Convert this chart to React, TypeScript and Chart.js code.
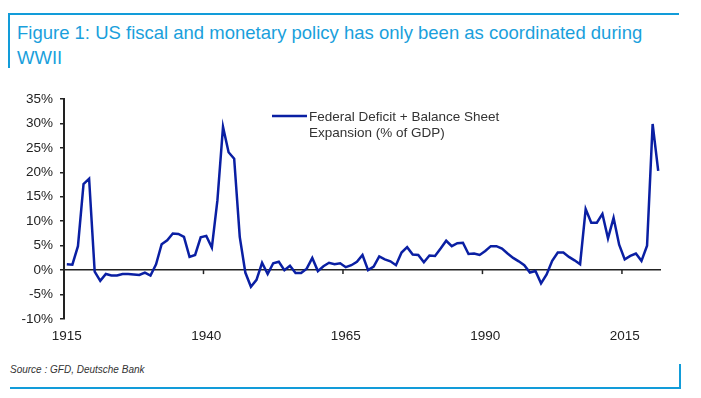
import React, { useEffect, useRef } from "react";
import { Chart, registerables } from "chart.js";

Chart.register(...registerables);

// ---------- data ----------
const FIRST_YEAR = 1915;
const LABEL_EVERY = 25;
// Federal Deficit + Balance Sheet Expansion (% of GDP), 1915..2021
const VALUES: number[] = [
  1.2, 1.1, 4.9, 17.6, 18.7,
  -0.3, -2.2, -0.8, -1.1, -1.1, -0.8, -0.8, -0.9, -1.0, -0.5,
  -1.1, 1.2, 5.3, 6.1, 7.5, 7.4, 6.8, 2.7, 3.1, 6.7,
  7.0, 4.6, 14.3, 29.3, 24.1, 22.8, 6.8, -0.5, -3.4, -2.0,
  1.5, -0.8, 1.4, 1.7, 0.0, 0.9, -0.6, -0.6, 0.3, 2.5,
  -0.2, 0.8, 1.5, 1.2, 1.4, 0.6, 1.0, 1.7, 3.1, 0.0,
  0.7, 2.8, 2.2, 1.8, 1.0, 3.6, 4.7, 3.2, 3.1, 1.6,
  3.0, 2.9, 4.4, 6.0, 4.9, 5.5, 5.6, 3.3, 3.4, 3.1,
  3.9, 4.9, 4.9, 4.4, 3.4, 2.5, 1.8, 1.0, -0.5, -0.2,
  -2.7, -0.9, 1.9, 3.6, 3.6, 2.7, 2.0, 1.2, 12.5, 9.7,
  9.7, 11.5, 6.5, 10.7, 5.2, 2.2, 2.9, 3.4, 1.9, 5.0,
  29.9, 20.3,
];
const YEARS: string[] = VALUES.map((_, i) => String(FIRST_YEAR + i));
const Y_MIN = -10;
const Y_MAX = 35;
const Y_STEP = 5;
const SERIES_LABEL = ["Federal Deficit + Balance Sheet", "Expansion (% of GDP)"];
const TITLE_LINES = [
  "Figure 1: US fiscal and monetary policy has only been as coordinated during",
  "WWII",
];
const SOURCE = "Source : GFD, Deutsche Bank";

const isLabelled = (i: number) => (Number(YEARS[i]) - FIRST_YEAR) % LABEL_EVERY === 0;

// ---------- style ----------
const FRAME = "#129cd9";
const LINE = "#0a1fa3";
const FONT = "'Liberation Sans', Arial, sans-serif";

const zeroAxisTicks = {
  id: "zeroAxisTicks",
  afterDatasetsDraw(chart: any) {
    const x = chart.scales.x;
    const y = chart.scales.y;
    const y0 = y.getPixelForValue(0);
    const ctx = chart.ctx;
    ctx.save();
    ctx.strokeStyle = "#222";
    ctx.lineWidth = 1.5;
    YEARS.forEach((_yr, i) => {
      if (i > 0 && isLabelled(i)) {
        const px = x.getPixelForValue(i - 0.5);
        ctx.beginPath();
        ctx.moveTo(px, y0);
        ctx.lineTo(px, y0 + 4);
        ctx.stroke();
      }
    });
    ctx.restore();
  },
};

const customLegend = {
  id: "customLegend",
  afterDraw(chart: any) {
    const { ctx, chartArea } = chart;
    const ds = chart.data.datasets[0];
    const lx = chartArea.left + 208;
    const ly = chartArea.top + 17;
    ctx.save();
    ctx.strokeStyle = ds.borderColor;
    ctx.lineWidth = 2.5;
    ctx.beginPath();
    ctx.moveTo(lx, ly);
    ctx.lineTo(lx + 35, ly);
    ctx.stroke();
    ctx.fillStyle = "#333";
    ctx.font = `13.5px ${FONT}`;
    ctx.textBaseline = "alphabetic";
    ctx.textAlign = "left";
    SERIES_LABEL.forEach((t, i) => {
      ctx.fillText(t, lx + 37, ly + 5 + i * 16);
    });
    ctx.restore();
  },
};

export default function App() {
  const ref = useRef<HTMLCanvasElement | null>(null);

  useEffect(() => {
    if (!ref.current) return;
    const chart = new Chart(ref.current, {
      type: "line",
      data: {
        labels: YEARS,
        datasets: [
          {
            label: SERIES_LABEL.join(" "),
            data: VALUES,
            borderColor: LINE,
            backgroundColor: LINE,
            borderWidth: 2.5,
            pointRadius: 0,
            tension: 0,
          },
        ],
      },
      options: {
        animation: false,
        responsive: false,
        devicePixelRatio: 1,
        layout: { padding: { left: 0, right: 40, top: 19, bottom: 0 } },
        plugins: {
          legend: { display: false },
          tooltip: { enabled: false },
        },
        font: { family: FONT },
        scales: {
          x: {
            type: "category",
            offset: true,
            grid: { display: false, drawTicks: false },
            border: { display: false },
            ticks: {
              autoSkip: false,
              maxRotation: 0,
              minRotation: 0,
              padding: 9,
              color: "#222",
              font: { family: FONT, size: 13.5 },
              callback: (_v: any, i: number) => (isLabelled(i) ? YEARS[i] : ""),
            },
            afterFit: (s: any) => {
              s.height = 41;
            },
          },
          y: {
            min: Y_MIN,
            max: Y_MAX,
            grid: {
              drawOnChartArea: true,
              drawTicks: true,
              tickLength: 4,
              color: (c: any) => (c.tick && c.tick.value === 0 ? "#222" : "rgba(0,0,0,0)"),
              tickColor: "#222",
              lineWidth: 1.5,
            },
            border: { display: true, color: "#222", width: 2 },
            ticks: {
              stepSize: Y_STEP,
              padding: 7,
              color: "#222",
              font: { family: FONT, size: 13.5 },
              callback: (v: any) => `${v}%`,
            },
            afterFit: (s: any) => {
              s.width = 64;
            },
          },
        },
      } as any,
      plugins: [zeroAxisTicks, customLegend],
    });
    return () => chart.destroy();
  }, []);

  return (
    <div style={{ position: "absolute", left: 0, top: 0, width: 701, height: 398, background: "#fff", overflow: "hidden" }}>
      <div style={{ position: "absolute", left: 8, top: 13, width: 671, height: 2, background: FRAME }} />
      <div style={{ position: "absolute", left: 8, top: 13, width: 2, height: 55, background: FRAME }} />
      <div
        style={{
          position: "absolute",
          left: 17,
          top: 20,
          fontFamily: FONT,
          fontSize: 18.5,
          lineHeight: "25px",
          color: "#1a9fdc",
          whiteSpace: "nowrap",
        }}
      >
        {TITLE_LINES.map((t, i) => (
          <div key={i}>{t}</div>
        ))}
      </div>
      <canvas
        ref={ref}
        width={701}
        height={280}
        style={{ position: "absolute", left: 0, top: 80, width: 701, height: 280 }}
      />
      <div
        style={{
          position: "absolute",
          left: 10,
          top: 364,
          fontFamily: FONT,
          fontSize: 10,
          lineHeight: "12px",
          fontStyle: "italic",
          color: "#333",
          whiteSpace: "nowrap",
        }}
      >
        {SOURCE}
      </div>
      <div style={{ position: "absolute", left: 10, top: 387, width: 671, height: 2, background: FRAME }} />
      <div style={{ position: "absolute", left: 679, top: 364, width: 2, height: 25, background: FRAME }} />
    </div>
  );
}
